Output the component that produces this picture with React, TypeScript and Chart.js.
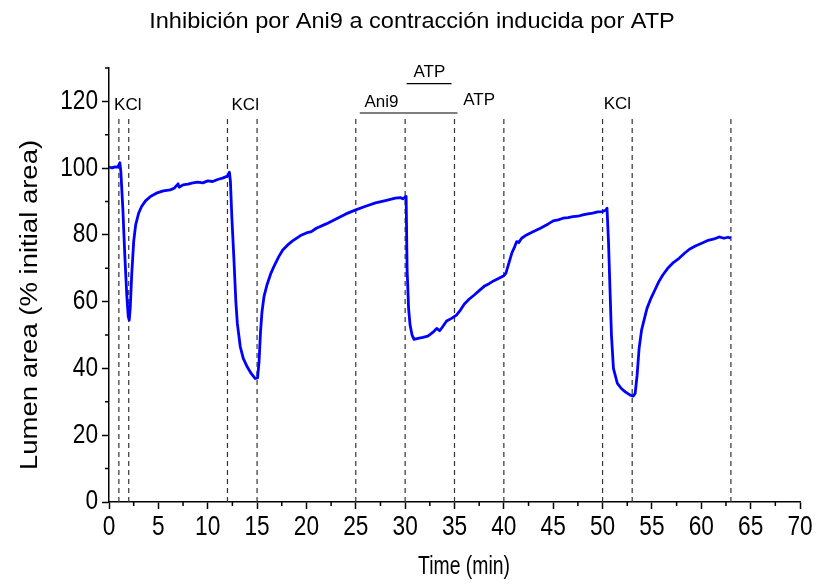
import React, { useEffect, useRef } from 'react';
import { Chart, registerables } from 'chart.js';

Chart.register(...registerables);

const FONT = "'Liberation Sans', Arial, Helvetica, sans-serif";

const chartTitle = 'Inhibición por Ani9 a contracción inducida por ATP';
const xAxisTitle = 'Time (min)';
const yAxisTitle = 'Lumen area (% initial area)';

// Time (min)
const times = [
  0, 0.3, 0.6, 0.9, 1.1, 1.2, 1.4, 1.6, 1.8, 1.95, 2.05, 2.15, 2.3, 2.5, 2.7, 3.0, 3.3, 3.7, 4.2, 4.8,
  5.5, 6.2, 6.6, 7.0, 7.1, 7.5, 8.0, 8.5, 9.0, 9.5, 10.0, 10.5, 11.0, 11.5, 12.0, 12.2,
  12.3, 12.45, 12.65, 12.85, 13.0, 13.3, 13.6, 14.0, 14.4, 14.8, 15.05, 15.2, 15.35, 15.5, 15.7, 16.0,
  16.4, 16.7, 17.2, 17.6, 18.1, 18.6, 19.4, 20.0, 20.5, 21.0, 22.0, 23.0, 24.0, 25.0, 26.0, 27.0,
  28.0, 29.0, 29.5, 29.8, 30.0, 30.1,
  30.2, 30.35, 30.5, 30.7, 30.9, 31.3, 31.8, 32.3, 32.8, 33.2, 33.5, 33.8, 34.2, 34.7, 35.2, 35.6,
  36.0, 36.5, 37.0, 37.5, 38.0, 38.5, 39.0, 39.5, 40.0, 40.2, 40.5, 40.8, 41.1, 41.3, 41.5, 41.8,
  42.3, 43.0, 43.7, 44.5, 45.0, 45.5, 46.0, 46.5, 47.0, 47.5, 48.0, 48.5, 49.0, 49.5, 50.0, 50.3, 50.45,
  50.6, 50.75, 50.9, 51.1, 51.5, 51.9, 52.3, 52.8, 53.1, 53.3, 53.5, 53.7, 53.95, 54.2, 54.5, 54.9,
  55.3, 55.7, 56.1, 56.6, 57.2, 57.75, 58.3, 58.8, 59.4, 60.1, 60.7, 61.3, 61.8, 62.3, 62.7, 63.0
];

// Lumen area (% initial area)
const area = [
  100.3, 100.1, 100.4, 100.3, 101.6, 99.0, 88.0, 74.0, 62.0, 55.5, 54.5, 58.0, 68.0, 78.0, 83.0, 86.5, 88.5, 90.2, 91.5, 92.5,
  93.2, 93.5, 94.0, 95.3, 94.3, 95.0, 95.2, 95.6, 95.8, 95.6, 96.2, 96.0, 96.6, 97.0, 97.6, 98.8,
  96.0, 85.0, 73.0, 60.0, 53.5, 46.5, 43.0, 40.5, 38.5, 37.0, 37.2, 42.0, 51.0, 57.0, 61.5, 65.0,
  68.5, 70.5, 73.5, 75.5, 77.0, 78.2, 79.8, 80.6, 81.0, 82.0, 83.3, 84.8, 86.3, 87.5, 88.6, 89.6,
  90.3, 91.0, 91.2, 90.8, 91.4, 91.5,
  69.5, 58.0, 53.0, 50.0, 48.7, 49.0, 49.3, 49.7, 50.8, 52.0, 51.3, 52.5, 54.2, 55.0, 56.0, 57.5,
  59.3, 60.8, 62.0, 63.3, 64.6, 65.4, 66.3, 67.0, 67.8, 68.5, 71.5, 74.5, 76.5, 78.0, 77.7, 79.0,
  80.0, 81.0, 82.0, 83.3, 84.2, 84.5, 85.0, 85.2, 85.5, 85.6, 86.0, 86.3, 86.5, 86.9, 87.0, 87.4, 88.0,
  78.0, 64.0, 50.0, 40.0, 35.5, 34.0, 33.0, 32.0, 31.7, 32.5, 38.0, 46.0, 51.5, 54.5, 58.0, 61.0,
  63.5, 66.0, 68.0, 70.0, 71.8, 73.0, 74.5, 75.7, 76.7, 77.6, 78.4, 78.8, 79.4, 79.0, 79.3, 79.0
];

// Treatment markers (dashed vertical lines)
const eventTimes = [1, 2, 12, 15, 25, 30, 35, 40, 50, 53, 63];
const eventTop = 115.4;

// Horizontal bars above the trace
const ani9Bar = [25.4, 35.3];
const ani9BarY = 116.5;
const atpBar = [30.15, 34.7];
const atpBarY = 125.3;

// Annotation labels
const labelTexts = ['KCl', 'KCl', 'Ani9', 'ATP', 'ATP', 'KCl'];
const labelX = [1.9, 13.8, 27.6, 32.45, 37.5, 51.5];
const labelY = [117.3, 117.5, 118.3, 127.3, 119.0, 117.8];

// Axis ticks
const xMin = 0, xMax = 70, xStep = 5, xMinorStep = 2.5;
const yMin = 0, yMax = 130, yStep = 20, yMinorStep = 10;
const xTickLabels = ['0', '5', '10', '15', '20', '25', '30', '35', '40', '45', '50', '55', '60', '65', '70'];
const yTickLabels = ['0', '20', '40', '60', '80', '100', '120'];

const drawScaled = (ctx: any, text: string, x: number, y: number, sx: number) => {
  ctx.save();
  ctx.translate(x, y);
  ctx.scale(sx, 1);
  ctx.fillText(text, 0, 0);
  ctx.restore();
};

const overlayPlugin = {
  id: 'overlay',
  afterDraw(chart: any) {
    const ctx = chart.ctx;
    const xs = chart.scales.x;
    const ys = chart.scales.y;
    const area = chart.chartArea;
    ctx.save();
    // minor ticks
    ctx.strokeStyle = '#000';
    ctx.lineWidth = 1.5;
    ctx.beginPath();
    for (let v = xMin + xMinorStep; v <= xMax; v += xStep) {
      const px = xs.getPixelForValue(v);
      ctx.moveTo(px, area.bottom);
      ctx.lineTo(px, area.bottom + 4);
    }
    for (let v = yMin + yMinorStep; v <= yMax; v += yStep) {
      const py = ys.getPixelForValue(v);
      ctx.moveTo(area.left, py);
      ctx.lineTo(area.left - 4, py);
    }
    ctx.stroke();

    ctx.fillStyle = '#000';

    // tick labels
    ctx.font = `27px ${FONT}`;
    ctx.textBaseline = 'middle';
    ctx.textAlign = 'center';
    xTickLabels.forEach((t) => {
      drawScaled(ctx, t, xs.getPixelForValue(Number(t)), 528, 0.84);
    });
    ctx.textAlign = 'right';
    yTickLabels.forEach((t) => {
      drawScaled(ctx, t, area.left - 11, ys.getPixelForValue(Number(t)), 0.84);
    });

    // annotation labels
    ctx.font = `17px ${FONT}`;
    ctx.textAlign = 'center';
    ctx.textBaseline = 'alphabetic';
    labelTexts.forEach((t, i) => {
      ctx.fillText(t, xs.getPixelForValue(labelX[i]), ys.getPixelForValue(labelY[i]));
    });

    // chart title
    ctx.font = `22px ${FONT}`;
    ctx.textBaseline = 'middle';
    drawScaled(ctx, chartTitle, 412, 22, 1.07);

    // axis titles
    ctx.font = `25.5px ${FONT}`;
    drawScaled(ctx, xAxisTitle, 464, 567, 0.76);
    ctx.font = `27.5px ${FONT}`;
    ctx.translate(30, 305);
    ctx.rotate(-Math.PI / 2);
    ctx.scale(1, 0.9);
    ctx.fillText(yAxisTitle, 0, 0);
    ctx.restore();
  },
};

export default function App() {
  const ref = useRef<HTMLCanvasElement | null>(null);
  useEffect(() => {
    if (!ref.current) return;
    const lineDs = (pts: { x: number; y: number }[], color: string, width: number, dash: number[] = []) => ({
      data: pts,
      borderColor: color,
      borderWidth: width,
      borderDash: dash,
      pointRadius: 0,
      tension: 0,
      fill: false,
    });
    const datasets: any[] = [
      {
        ...lineDs(times.map((t, i) => ({ x: t, y: area[i] })), '#0000ff', 2.8),
        borderJoinStyle: 'round',
        order: 0,
      },
      ...eventTimes.map((t) => ({
        ...lineDs([{ x: t, y: 0 }, { x: t, y: eventTop }], '#333', 1.2, [5, 4]),
        order: 1,
      })),
      { ...lineDs([{ x: ani9Bar[0], y: ani9BarY }, { x: ani9Bar[1], y: ani9BarY }], '#555', 1.5), order: 1 },
      { ...lineDs([{ x: atpBar[0], y: atpBarY }, { x: atpBar[1], y: atpBarY }], '#000', 1.2), order: 1 },
    ];
    const chart = new Chart(ref.current, {
      type: 'line',
      data: { datasets },
      plugins: [overlayPlugin],
      options: {
        animation: false,
        responsive: true,
        maintainAspectRatio: false,
        layout: { padding: { top: 68, right: 21, left: 0, bottom: 0 } },
        plugins: { legend: { display: false }, tooltip: { enabled: false }, title: { display: false } },
        scales: {
          x: {
            type: 'linear',
            min: xMin,
            max: xMax,
            ticks: { stepSize: xStep, color: 'rgba(0,0,0,0)', font: { size: 20, family: FONT }, padding: 3, maxRotation: 0, autoSkip: false, includeBounds: false },
            grid: { drawOnChartArea: false, drawTicks: true, tickLength: 7, tickColor: '#000', tickWidth: 1.5 },
            border: { display: true, color: '#000', width: 1.5 },
            afterFit: (s: any) => { s.height = 84; },
          },
          y: {
            type: 'linear',
            min: yMin,
            max: yMax,
            ticks: { stepSize: yStep, color: 'rgba(0,0,0,0)', font: { size: 20, family: FONT }, padding: 4, includeBounds: false },
            grid: { drawOnChartArea: false, drawTicks: true, tickLength: 7, tickColor: '#000', tickWidth: 1.5 },
            border: { display: true, color: '#000', width: 1.5 },
            afterFit: (s: any) => { s.width = 109; },
          },
        },
      } as any,
    });
    return () => chart.destroy();
  }, []);
  return (
    <div style={{ position: 'fixed', left: 0, top: 0, width: 821, height: 586, background: '#fff' }}>
      <canvas ref={ref} />
    </div>
  );
}
